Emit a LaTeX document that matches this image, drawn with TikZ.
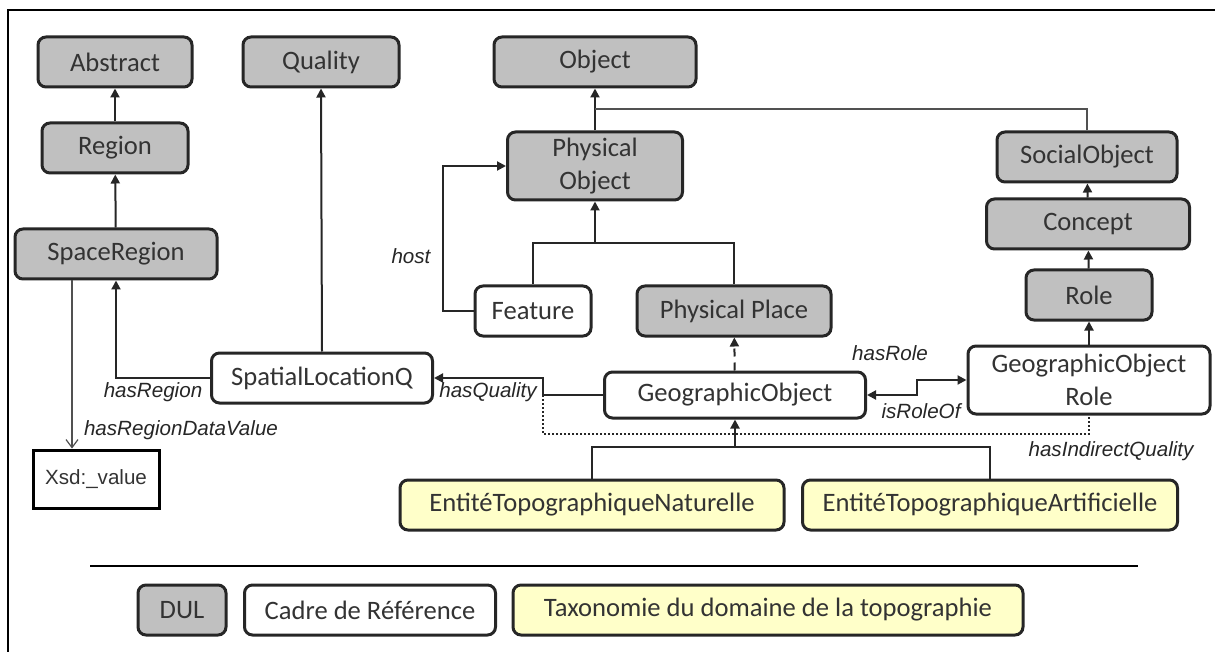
\documentclass[tikz,border=0pt]{standalone}
\usepackage{fontspec}
\setmainfont{Carlito}
\newfontfamily\labelfont{Liberation Sans}
\usetikzlibrary{arrows.meta}
\definecolor{dulgray}{HTML}{C0C0C0}
\definecolor{topoyellow}{HTML}{FFFFC9}
\definecolor{boxline}{HTML}{262626}
\definecolor{textgray}{HTML}{333333}

\begin{document}
\begin{tikzpicture}[x=0.5pt, y=-0.5pt,
    box/.style={draw=boxline, line width=1.5pt, rounded corners=4pt, align=center,
        text=textgray, font=\fontsize{13.3}{16.5}\selectfont, inner sep=2pt, minimum height=25pt},
    dul/.style={box, fill=dulgray},
    cadre/.style={box, fill=white},
    topo/.style={box, fill=topoyellow},
    rel/.style={font=\labelfont\itshape\fontsize{10.3}{12}\selectfont, text=black!85, inner sep=0pt},
    isa/.style={draw=boxline, line width=1pt, -{Triangle[length=4.5pt,width=4.5pt]}},
    twoway/.style={draw=boxline, line width=1pt, {Triangle[length=4.5pt,width=4.5pt]}-{Triangle[length=4.5pt,width=4.5pt]}},
    link/.style={draw=boxline!80, line width=0.6pt}]
    \useasboundingbox (0,0) rectangle (1215,652);

    % frame and legend rule
    \draw[line width=1pt] (8,652) -- (8,10) -- (1215,10);
    \draw[line width=0.75pt] (90,566) -- (1138,566);

    % DUL classes
    \node[dul, minimum width=77pt] (abstract) at (115,62) {Abstract};
    \node[dul, minimum width=78pt] (quality) at (321,62) {Quality};
    \node[dul, minimum width=101pt] (object) at (595,62) {Object};
    \node[dul, minimum width=73pt] (region) at (115,148) {Region};
    \node[dul, minimum width=101pt] (spaceregion) at (116,254) {SpaceRegion};
    \node[dul, minimum width=87.5pt, minimum height=34pt] (physobject) at (595,166) {Physical\\Object};
    \node[dul, minimum width=90pt] (socialobject) at (1087,157) {SocialObject};
    \node[dul, minimum width=101.5pt] (concept) at (1088,224) {Concept};
    \node[dul, minimum width=63pt] (role) at (1089,295) {Role};
    \node[dul, minimum width=97pt] (physplace) at (734,311) {Physical Place};

    % cadre de reference
    \node[cadre, minimum width=58pt] (feature) at (533,311) {Feature};
    \node[cadre, minimum width=110.5pt] (spatialloc) at (322,378) {SpatialLocationQ};
    \node[cadre, minimum width=130.5pt, minimum height=23pt] (geoobject) at (735,395) {GeographicObject};
    \node[cadre, minimum width=121pt, minimum height=34pt] (georole) at (1089,380) {GeographicObject\\Role};
    \node[draw=black, line width=1.5pt, minimum width=63pt, minimum height=29pt,
        font=\labelfont\fontsize{10.3}{12}\selectfont, text=textgray] (xsdvalue) at (96,479) {Xsd:\_value};

    % taxonomie
    \node[topo, minimum width=192pt] (naturelle) at (592,505) {EntitéTopographiqueNaturelle};
    \node[topo, minimum width=187.5pt] (artificielle) at (990,505) {EntitéTopographiqueArtificielle};

    % legend
    \node[dul, minimum width=44pt] (legdul) at (182,610) {DUL};
    \node[cadre, minimum width=125.5pt] (legcadre) at (370,610) {Cadre de Référence};
    \node[topo, minimum width=255pt] (legtopo) at (768,610) {Taxonomie du domaine de la topographie};

    % bends
    \coordinate (objjoin) at (595,109);
    \coordinate (pojoin) at (595,243);
    \coordinate (geojoin) at (735,447);
    \coordinate (qbend) at (543,395);
    \coordinate (qdot) at (543,434);
    \coordinate (rbend) at (917,395);

    % subsumption
    \draw[isa] (region) -- (abstract);
    \draw[isa] (spaceregion) -- (region);
    \draw[isa] (physobject) -- (object);
    \draw[link] (socialobject.north) |- (objjoin);
    \draw[isa] (feature.north) |- (pojoin) -- (physobject.south);
    \draw[boxline, line width=1pt] (physplace.north) |- (pojoin);
    \draw[isa] (concept) -- (socialobject);
    \draw[isa] (role) -- (concept);
    \draw[isa] (georole) -- (role);
    \draw[isa, dash pattern=on 4pt off 3pt] (geoobject) -- (physplace);
    \draw[isa] (naturelle.north) |- (geojoin) -- (geoobject.south);
    \draw[boxline, line width=1pt] (artificielle.north) |- (geojoin);

    % relations
    \draw[isa] (spatialloc.west) -| (spaceregion.south);
    \draw[isa] (spatialloc.north) -- (quality.south);
    \draw[isa] (feature.west) -- ++(-31,0) |- (physobject.west);
    \draw[isa] (geoobject.west) -- (qbend) |- (spatialloc.east);
    \draw[boxline, line width=1pt, dash pattern=on 1pt off 1pt] (qbend) -- (qdot) -| (georole.south);
    \draw[twoway] (geoobject.east) -- (rbend) |- (georole.west);
    \draw[link, -{Straight Barb[length=4pt,width=6pt]}] ([xshift=-22pt]spaceregion.south) -- ([xshift=-22pt]spaceregion.south |- xsdvalue.north);

    % relation labels
    \node[rel] (lblhost) at (411,256) {host};
    \node[rel] (lblregion) at (153,392) {hasRegion};
    \node[rel] (lbldata) at (181,430) {hasRegionDataValue};
    \node[rel] (lblquality) at (488,392) {hasQuality};
    \node[rel] (lblhasrole) at (890,353) {hasRole};
    \node[rel] (lblroleof) at (921,411) {isRoleOf};
    \node[rel] (lblindirect) at (1111,451) {hasIndirectQuality};
\end{tikzpicture}
\end{document}
